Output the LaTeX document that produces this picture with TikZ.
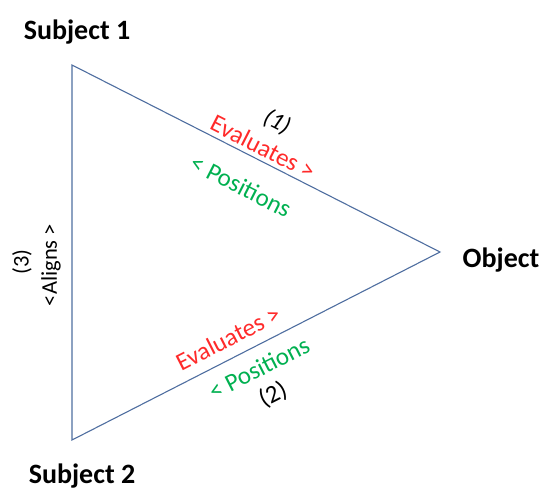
\documentclass[tikz,border=0pt]{standalone}
\usepackage{fontspec}
\setmainfont{Carlito}
\definecolor{edgeblue}{HTML}{4F6EA0}
\definecolor{evalred}{HTML}{FF2A2A}
\definecolor{posgreen}{HTML}{00B050}
\begin{document}
\begin{tikzpicture}[x=1pt,y=-1pt,
  vertexlabel/.style={font=\fontsize{28}{32}\selectfont\bfseries, inner sep=0pt},
  edgelabel/.style={font=\fontsize{25}{29}\selectfont, inner sep=0pt},
  sidelabel/.style={font=\fontsize{22.5}{26}\selectfont, inner sep=0pt, rotate=90},
  side/.style={draw=edgeblue, line width=1.1pt}]
  \useasboundingbox (0,0) rectangle (543,492);

  % corners of the triangle
  \coordinate (s1) at (72,65);
  \coordinate (ob) at (440,252);
  \coordinate (s2) at (72,440);

  \draw[side, line join=miter] (s1) -- (ob) -- (s2) -- cycle;

  % vertex labels
  \node[vertexlabel] (t1) at (77,32) {Subject 1};
  \node[vertexlabel] (t2) at (501,260) {Object};
  \node[vertexlabel] (t3) at (82,476) {Subject 2};

  % relation (1): Subject 1 -- Object
  \node[edgelabel, rotate=-27, font=\fontsize{24}{28}\selectfont\itshape] (n1) at (277,122) {(1)};
  \node[edgelabel, rotate=-27, text=evalred] (e1) at (263,147) {Evaluates >};
  \node[edgelabel, rotate=-27, text=posgreen] (p1) at (241,186) {< Positions};

  % relation (2): Subject 2 -- Object
  \node[edgelabel, rotate=27, text=evalred] (e2) at (228,338) {Evaluates >};
  \node[edgelabel, rotate=27, text=posgreen] (p2) at (259,368) {< Positions};
  \node[edgelabel, rotate=27] (n2) at (273,395) {(2)};

  % relation (3): Subject 1 -- Subject 2
  \node[sidelabel] (n3) at (22,262) {(3)};
  \node[sidelabel] (a3) at (51,265) {<Aligns >};
\end{tikzpicture}
\end{document}
